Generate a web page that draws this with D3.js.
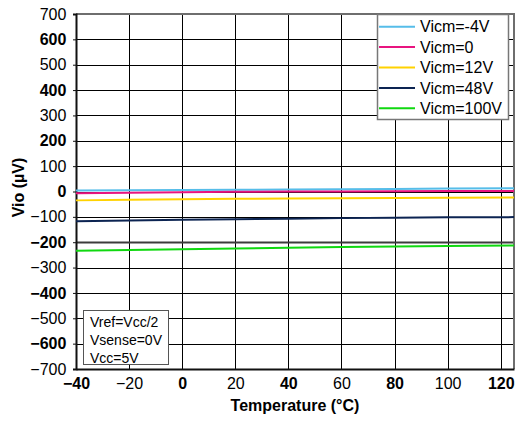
<!DOCTYPE html>
<html><head><meta charset="utf-8">
<script src="https://cdn.jsdelivr.net/npm/d3@7"></script>
<style>body{margin:0;background:#fff}svg{display:block;font-family:"Liberation Sans",Arial,sans-serif}</style>
</head><body><svg id="c" width="517" height="421"></svg>
<script>
const temps = [-40, -20, 0, 20, 40, 60, 80, 100, 125];
const seriesNames = ["Vicm=-4V", "Vicm=0", "Vicm=12V", "Vicm=48V", "Vicm=100V"];
const seriesColors = ["#56bde9", "#e8147f", "#ffd200", "#0c2452", "#10d810"];
const vicmM4 = [4, 5, 6, 7, 8, 9, 10, 12, 13];
const vicm0 = [-7, -5, -3, -1, 0, 0, 1, 2, 2];
const vicm12 = [-35, -33, -31, -29, -28, -27, -26, -25, -24];
const vicm48 = [-117, -114, -111, -109, -107, -105, -104, -102, -101];
const vicm100 = [-234, -231, -228, -225, -222, -219, -217, -215, -213];
const seriesValues = [vicmM4, vicm0, vicm12, vicm48, vicm100];
const xTicks = [-40, -20, 0, 20, 40, 60, 80, 100, 120];
const yTicks = [700, 600, 500, 400, 300, 200, 100, 0, -100, -200, -300, -400, -500, -600, -700];
const noteLines = ["Vref=Vcc/2", "Vsense=0V", "Vcc=5V"];

const svg = d3.select("#c");
const L = 76, R = 514, T = 14, B = 369;
const x = d3.scaleLinear().domain([-40, 125]).range([L, R]);
const y = d3.scaleLinear().domain([-700, 700]).range([B, T]);

// grid
const g = svg.append("g");
g.selectAll("line.v").data(xTicks.slice(1)).join("line")
  .attr("x1", d => Math.round(x(d)) + 0.5).attr("x2", d => Math.round(x(d)) + 0.5)
  .attr("y1", T).attr("y2", B).attr("stroke", "#000").attr("stroke-width", 1);
g.selectAll("line.h").data(yTicks.filter(d => d > -700 && d < 700)).join("line")
  .attr("x1", L).attr("x2", R)
  .attr("y1", d => Math.round(y(d)) + 0.5).attr("y2", d => Math.round(y(d)) + 0.5)
  .attr("stroke", d => d === -200 ? "#3c3c3c" : "#000")
  .attr("stroke-width", d => d === -200 ? 2 : 1);

// border top/right gray
svg.append("line").attr("x1", L).attr("x2", R + 1).attr("y1", T).attr("y2", T).attr("stroke", "#6e6e6e").attr("stroke-width", 2);
svg.append("line").attr("x1", R).attr("x2", R).attr("y1", T).attr("y2", B).attr("stroke", "#6e6e6e").attr("stroke-width", 2);

// axes
const xAxis = d3.axisBottom(x).tickValues(xTicks).tickSize(0).tickPadding(6).tickFormat(d3.format("d"));
const yAxis = d3.axisLeft(y).tickValues(yTicks).tickSize(3).tickPadding(5).tickFormat(d3.format("d"));
const gx = svg.append("g").attr("transform", `translate(0,${B})`).call(xAxis);
const gy = svg.append("g").attr("transform", `translate(${L},0)`).call(yAxis);
[gx, gy].forEach(a => {
  a.select(".domain").attr("stroke", "#111").attr("stroke-width", 2);
  a.selectAll(".tick line").attr("stroke", "#111");
  a.selectAll("text").attr("fill", "#000").style("font-size", "16px")
    .style("font-family", "'Liberation Sans', Arial, sans-serif");
});
gx.selectAll("text").attr("dy", "0.9em").style("font-weight", d => (d / 20) % 2 === 0 ? "bold" : "normal");
gy.selectAll("text").attr("dx", "-0.1em").style("font-weight", d => (d / 100) % 2 === 0 ? "bold" : "normal");

// lines
const line = d3.line().x((d, i) => x(temps[i])).y(d => y(d));
svg.append("g").selectAll("path").data(seriesValues).join("path")
  .attr("d", line).attr("fill", "none")
  .attr("stroke", (d, i) => seriesColors[i]).attr("stroke-width", 2);

// axis titles
svg.append("text").attr("x", (L + R) / 2).attr("y", 411).attr("text-anchor", "middle")
  .style("font-size", "16px").style("font-weight", "bold").text("Temperature (°C)");
svg.append("text").attr("transform", `translate(24,${(T + B) / 2 - 4}) rotate(-90)`).attr("text-anchor", "middle")
  .style("font-size", "16px").style("font-weight", "bold").text("Vio (µV)");

// legend
const lg = svg.append("g");
lg.append("rect").attr("x", 377.5).attr("y", 14.5).attr("width", 131).attr("height", 105)
  .attr("fill", "#fff").attr("stroke", "#777").attr("stroke-width", 1.5);
seriesNames.forEach((n, i) => {
  const cy = 26.7 + i * 20.4;
  lg.append("line").attr("x1", 379).attr("x2", 415).attr("y1", cy).attr("y2", cy)
    .attr("stroke", seriesColors[i]).attr("stroke-width", 2);
  lg.append("text").attr("x", 420).attr("y", cy).attr("dy", "0.36em")
    .style("font-size", "16px").text(n);
});

// note box
const nb = svg.append("g");
nb.append("rect").attr("x", 83.5).attr("y", 310.5).attr("width", 85).attr("height", 54)
  .attr("fill", "#fff").attr("stroke", "#555").attr("stroke-width", 1);
noteLines.forEach((t, i) => {
  nb.append("text").attr("x", 90).attr("y", 321.7 + i * 18.2).attr("dy", "0.36em")
    .style("font-size", "14px").text(t);
});
</script></body></html>
